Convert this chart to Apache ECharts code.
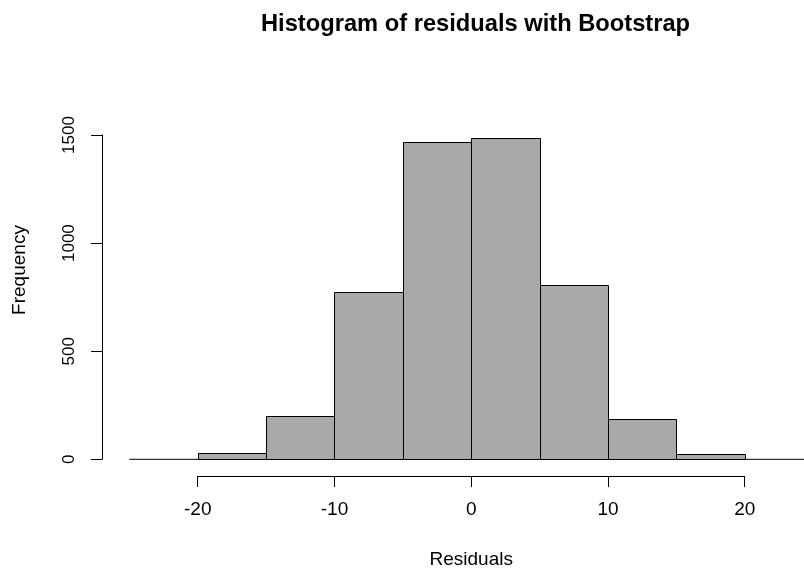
<!DOCTYPE html>
<html>
<head>
<meta charset="utf-8">
<script src="https://cdn.jsdelivr.net/npm/echarts@6/dist/echarts.min.js"></script>
<style>
html,body{margin:0;padding:0;background:#fff;}
#chart{width:804px;height:571px;}
</style>
</head>
<body>
<div id="chart"></div>
<script>
// Histogram bins (Residuals) and counts (Frequency)
var binStart = [-20, -15, -10, -5, 0, 5, 10, 15];
var binEnd   = [-15, -10, -5, 0, 5, 10, 15, 20];
var counts   = [31, 202, 776, 1469, 1486, 807, 188, 23];
// Horizontal reference line at Frequency = 0
var baselineX = [-25, 25];
var baselineY = [0, 0];
// Axis ticks
var xTicks = [-20, -10, 0, 10, 20];
var yTicks = [0, 500, 1000, 1500];

var FONT = 'Liberation Sans, Arial, sans-serif';
var PX = 13.675; // pixels per residual unit
var GRID_LEFT = 102;
var XMIN = -27, XMAX = XMIN + (804 - GRID_LEFT) / PX;
var chart = echarts.init(document.getElementById('chart'), null, {renderer: 'canvas'});

var histData = binStart.map(function (s, i) { return [s, binEnd[i], counts[i]]; });
var lineData = baselineX.map(function (x, i) { return [x, baselineY[i]]; });

var option = {
  backgroundColor: '#ffffff',
  animation: false,
  title: {
    text: 'Histogram of residuals with Bootstrap',
    left: 256,
    top: 7,
    textStyle: {fontFamily: FONT, fontSize: 23.7, fontWeight: 'bold', color: '#000'}
  },
  graphic: [{
    type: 'text',
    x: 20, y: 270,
    rotation: Math.PI / 2,
    style: {text: 'Frequency', font: '19px ' + FONT, fill: '#000', textAlign: 'center', textVerticalAlign: 'middle'}
  }],
  grid: [
    {left: GRID_LEFT, top: 135, width: (XMAX - XMIN) * PX, height: 324.3, containLabel: false},
    {left: GRID_LEFT + 7 * PX, top: 475, width: 40 * PX, height: 1, containLabel: false}
  ],
  xAxis: [
    {gridIndex: 0, type: 'value', min: XMIN, max: XMAX, show: false},
    {gridIndex: 1, type: 'value', min: xTicks[0], max: xTicks[xTicks.length - 1], interval: 10, position: 'bottom',
     axisLine: {show: true, onZero: false, lineStyle: {color: '#000', width: 1}},
     axisTick: {show: true, length: 11, lineStyle: {color: '#000', width: 1}},
     axisLabel: {show: true, margin: 24, fontFamily: FONT, fontSize: 19, color: '#000',
       formatter: function (v) { return String(v); }},
     splitLine: {show: false},
     name: 'Residuals', nameLocation: 'middle', nameGap: 74,
     nameTextStyle: {fontFamily: FONT, fontSize: 19, color: '#000'}}
  ],
  yAxis: [
    {gridIndex: 0, type: 'value', min: yTicks[0], max: yTicks[yTicks.length - 1], interval: 500, position: 'left',
     axisLine: {show: true, onZero: false, lineStyle: {color: '#000', width: 1}},
     axisTick: {show: true, length: 11, lineStyle: {color: '#000', width: 1}},
     axisLabel: {show: true, rotate: 90, margin: 24, fontFamily: FONT, fontSize: 17, color: '#000',
       formatter: function (v) { return String(v); }},
     splitLine: {show: false}},
    {gridIndex: 1, type: 'value', min: 0, max: 1, show: false}
  ],
  series: [
    {
      type: 'line',
      xAxisIndex: 0, yAxisIndex: 0,
      data: lineData,
      symbol: 'none',
      clip: false,
      lineStyle: {color: '#000', width: 1},
      z: 1, silent: true
    },
    {
      type: 'custom',
      xAxisIndex: 0, yAxisIndex: 0,
      data: histData,
      encode: {x: [0, 1], y: 2},
      clip: false,
      renderItem: function (params, api) {
        var p0 = api.coord([api.value(0), api.value(2)]);
        var p1 = api.coord([api.value(1), 0]);
        return {
          type: 'rect',
          shape: {x: Math.round(p0[0]) + 0.5, y: Math.round(p0[1]) + 0.5,
                  width: Math.round(p1[0]) - Math.round(p0[0]),
                  height: Math.round(p1[1]) - Math.round(p0[1])},
          style: {fill: '#a9a9a9', stroke: '#000', lineWidth: 1}
        };
      },
      z: 2
    }
  ]
};
chart.setOption(option);
</script>
</body>
</html>
